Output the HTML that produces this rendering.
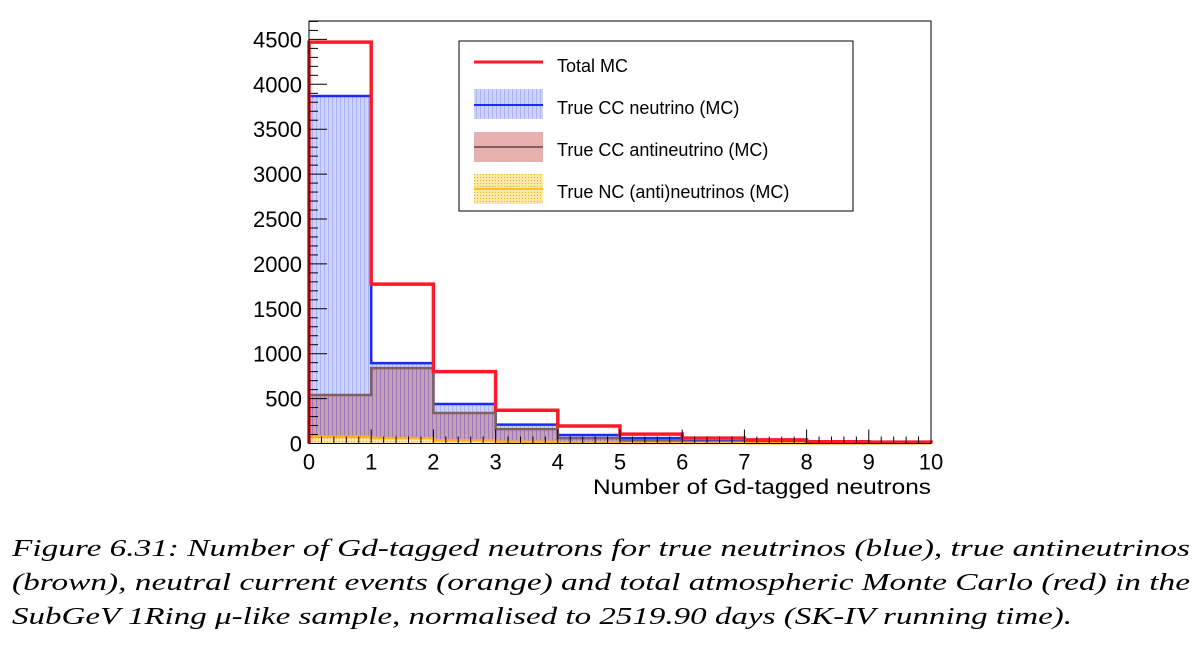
<!DOCTYPE html>
<html><head><meta charset="utf-8"><style>
body{margin:0;background:#fff;}
svg{display:block;}
text{font-family:"Liberation Sans",Arial,sans-serif;}
.cap{font-family:"Liberation Serif","DejaVu Serif",serif;font-style:italic;font-size:24px;fill:#000;}
</style></head><body>
<svg width="1204" height="652" viewBox="0 0 1204 652" xmlns="http://www.w3.org/2000/svg">
<defs>
<pattern id="pBlue" width="4" height="4" patternUnits="userSpaceOnUse"><rect width="4" height="4" fill="#cdd2f7"/><rect x="0" width="1" height="4" fill="#aab3f0"/></pattern>
<pattern id="pBrown" width="4" height="4" patternUnits="userSpaceOnUse"><rect width="4" height="4" fill="#c8a0b4"/><rect x="0" width="1" height="4" fill="#9a7ab8"/></pattern>
<pattern id="pOrange" width="3" height="3" patternUnits="userSpaceOnUse"><rect width="3" height="3" fill="#fbe7a8"/><rect width="1" height="1" fill="#e8b020"/></pattern>
</defs>
<g id="chart"></g>
<g>
<rect x="459" y="41" width="394" height="170" fill="#fff" stroke="#000" stroke-width="1"/>
<g>
<line x1="474" y1="62" x2="543" y2="62" stroke="#ff1a2a" stroke-width="3"/>
<text x="557" y="72" font-size="18">Total MC</text></g>
<g>
<rect x="474" y="89" width="69" height="30" fill="url(#pBlue)"/>
<line x1="474" y1="105" x2="543" y2="105" stroke="#1a2aff" stroke-width="2"/>
<text x="557" y="114" font-size="18">True CC neutrino (MC)</text></g>
<g>
<rect x="474" y="132" width="69" height="30" fill="#e6b0b0"/>
<line x1="474" y1="147" x2="543" y2="147" stroke="#806060" stroke-width="2"/>
<text x="557" y="156" font-size="18">True CC antineutrino (MC)</text></g>
<g>
<rect x="474" y="174" width="69" height="30" fill="url(#pOrange)"/>
<line x1="474" y1="189" x2="543" y2="189" stroke="#ffc020" stroke-width="2"/>
<text x="557" y="198" font-size="18">True NC (anti)neutrinos (MC)</text></g>
</g>
<text x="931" y="494" font-size="21" text-anchor="end" textLength="338" lengthAdjust="spacingAndGlyphs">Number of Gd-tagged neutrons</text>
<g>
<text class="cap" x="12" y="556" textLength="1178" lengthAdjust="spacingAndGlyphs">Figure 6.31: Number of Gd-tagged neutrons for true neutrinos (blue), true antineutrinos</text>
<text class="cap" x="12" y="590" textLength="1178" lengthAdjust="spacingAndGlyphs">(brown), neutral current events (orange) and total atmospheric Monte Carlo (red) in the</text>
<text class="cap" x="12" y="624" textLength="1060" lengthAdjust="spacingAndGlyphs">SubGeV 1Ring μ-like sample, normalised to 2519.90 days (SK-IV running time).</text>
</g>
</svg>
<script>
const bins = [0,1,2,3,4,5,6,7,8,9];
const totalMC = [4470,1775,800,370,195,105,60,40,20,15];
const ccNu = [3870,895,440,210,95,60,25,10,5,5];
const ccAnti = [540,840,340,160,60,35,20,10,5,5];
const ncNu = [75,60,35,20,10,5,5,3,2,2];
const yTicks = [0,500,1000,1500,2000,2500,3000,3500,4000,4500];
const xTicks = [0,1,2,3,4,5,6,7,8,9,10];

const X0=309,X1=931,Y0=443.5,YT=21;
const xs = v => X0 + v*(X1-X0)/10;
const ys = v => Y0 - v*(44.9/500);
const NS='http://www.w3.org/2000/svg';
const g = document.getElementById('chart');
function mk(tag, attrs){const e=document.createElementNS(NS,tag);for(const k in attrs)e.setAttribute(k,attrs[k]);g.appendChild(e);return e;}
function stepPath(vals, close){
  let d = 'M'+xs(0)+','+Y0;
  vals.forEach((v,i)=>{d+=' L'+xs(bins[i])+','+ys(v)+' L'+xs(bins[i]+1)+','+ys(v);});
  d+=' L'+xs(10)+','+Y0;
  if(close) d+=' Z';
  return d;
}
const series=[
 {v:ccNu,fill:'url(#pBlue)',stroke:'#1a2aff',w:2.5,n:'cc-neutrino'},
 {v:ccAnti,fill:'url(#pBrown)',stroke:'#806060',w:2.5,n:'cc-antineutrino'},
 {v:ncNu,fill:'url(#pOrange)',stroke:'#ffb020',w:2.5,n:'nc-neutrino'},
 {v:totalMC,fill:'none',stroke:'#ff1a2a',w:3.5,n:'total-mc'}
];
series.forEach(s=>{
  if(s.fill!=='none'){const f=mk('path',{d:stepPath(s.v,true),fill:s.fill,stroke:'none'});
  
  }
  const p=mk('path',{d:stepPath(s.v,false),fill:'none',stroke:s.stroke,'stroke-width':s.w});
  
  
});
const fr=mk('rect',{x:X0,y:YT,width:X1-X0,height:Y0-YT,fill:'none',stroke:'#000','stroke-width':1});


for(let v=0;v<=4700;v+=100){
  const major=v%500===0;
  const t=mk('line',{x1:X0,x2:X0+(major?18:9),y1:ys(v),y2:ys(v),stroke:'#000','stroke-width':1});
  
  
}
yTicks.forEach(v=>{
  const t=mk('text',{x:X0-7,y:ys(v)+8,'font-size':22,'text-anchor':'end'});
  t.textContent=v;
  
  
});
for(let i=0;i<=50;i++){
  const v=i/5,major=i%5===0;
  const t=mk('line',{x1:xs(v),x2:xs(v),y1:Y0,y2:Y0-(major?14:7),stroke:'#000','stroke-width':1});
  
  
}
xTicks.forEach(v=>{
  const t=mk('text',{x:xs(v),y:Y0+26,'font-size':22,'text-anchor':'middle'});
  t.textContent=v;
  
  
});
</script>
</body></html>
